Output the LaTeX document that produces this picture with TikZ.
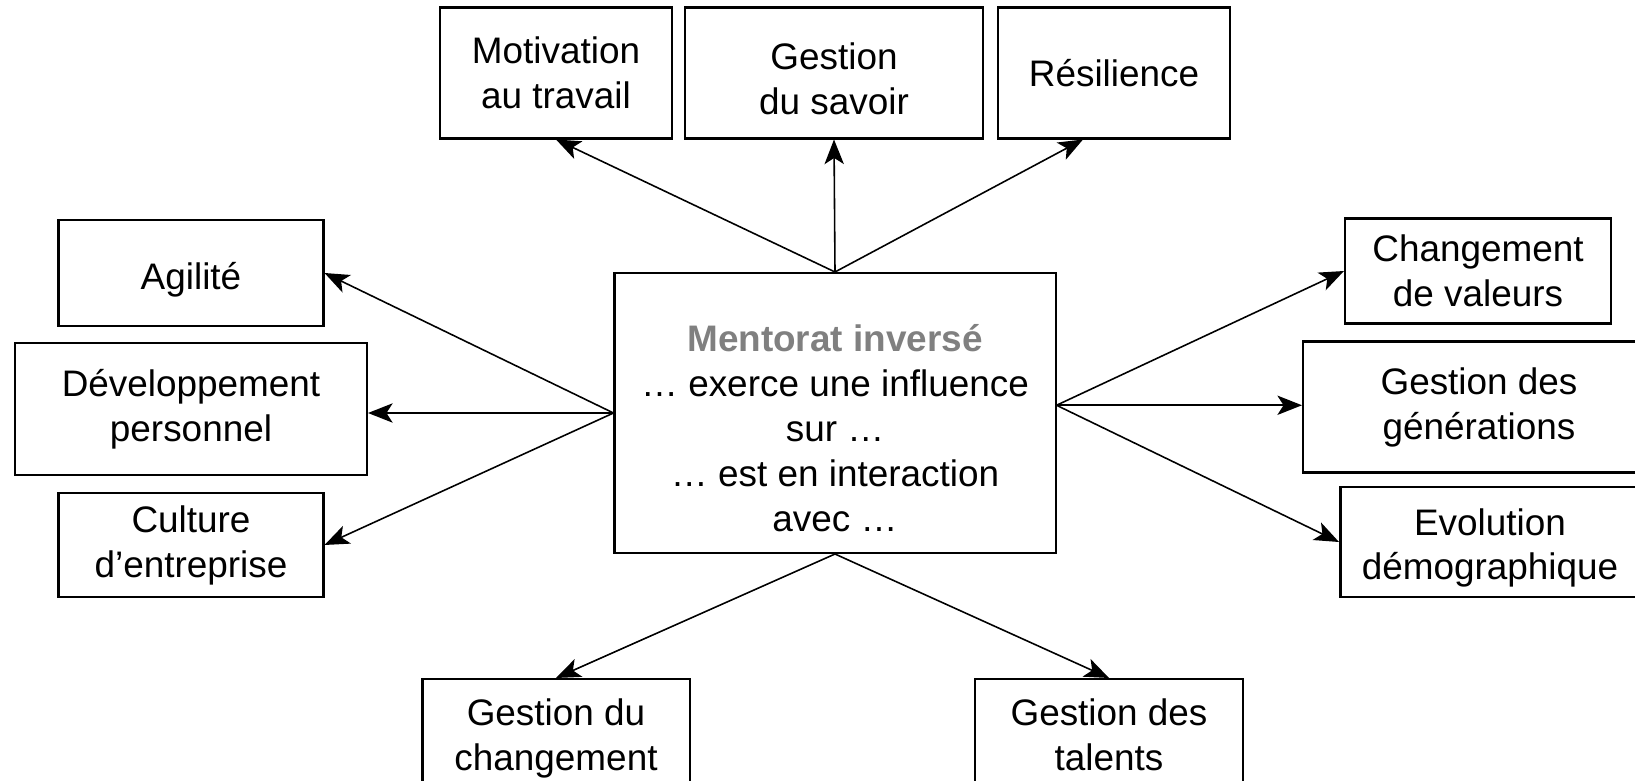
\documentclass[tikz,border=0pt]{standalone}
\usepackage{fontspec}
\setmainfont{Liberation Sans}
\usepackage{tikz}
\usetikzlibrary{arrows.meta, shapes}
\definecolor{titlegray}{gray}{0.5}
\newcommand{\toprule}{\rule{0pt}{22pt}}

\begin{document}
\begin{tikzpicture}[x=0.2mm, y=-0.2mm,
			>={Stealth[length=14pt, width=11pt, inset=3.5pt]},   %Pfeilspitzen
			box/.style={draw, line width=1.15pt, align=center, inner sep=0pt,
				font=\fontsize{21}{25.6}\selectfont},
			arr/.style={->, line width=0.9pt}]
			%Bildbereich
			\useasboundingbox (0,0) rectangle (1635,781);
			\clip (0,0) rectangle (1635,781);
			% Mitte
			\node[box, minimum width=8.82cm, minimum height=5.6cm,
				label={[yshift=-0.3cm, align=center, font=\fontsize{21}{25.6}\selectfont]center:{\textcolor{titlegray}{\textbf{Mentorat inversé}}\\… exerce une influence\\sur …\\… est en interaction\\avec …}}]
				(men) at (835,413) {};
			% oben
			\node[box, minimum width=4.64cm, minimum height=2.62cm] (mot) at (556,73) {Motivation\\au travail};
			\node[box, minimum width=5.96cm, minimum height=2.62cm] (sav) at (834,73) {\toprule Gestion\\du savoir};
			\node[box, minimum width=4.64cm, minimum height=2.62cm, text height=15pt, text depth=0pt] (res) at (1114,73) {Résilience};
			% links
			\node[box, minimum width=5.3cm, minimum height=2.12cm, text height=18.6pt, text depth=0pt] (agi) at (191,273) {Agilité};
			\node[box, minimum width=7.04cm, minimum height=2.64cm] (dev) at (191,409) {Développement\\personnel};
			\node[box, minimum width=5.3cm, minimum height=2.08cm] (cul) at (191,545) {Culture\\d’entreprise};
			% rechts
			\node[box, minimum width=5.32cm, minimum height=2.1cm] (val) at (1478,271) {Changement\\de valeurs};
			\node[box, minimum width=7.04cm, minimum height=2.62cm] (gen) at (1479,407) {Gestion des\\générations};
			\node[box, line width=1.7pt, minimum width=5.98cm, minimum height=2.2cm] (evo) at (1490,542) {\toprule Evolution\\démographique};
			% unten
			\node[box, minimum width=5.34cm, minimum height=2.24cm] (chg) at (556,735) {\rule{0pt}{19pt}Gestion du\\changement};
			\node[box, minimum width=5.36cm, minimum height=2.24cm] (tal) at (1109,735) {Gestion des\\talents};
			%Pfeile zeichnen
			\foreach \t in {mot, sav} \draw[arr] (men.north) -- (\t.south);
			\draw[arr] (men.north) -- (res.245);
			\foreach \t in {agi, cul} \draw[arr] (men.west) -- (\t.east);
			\draw[arr] (men.west) -- (men.west -| dev.east);
			\foreach \t in {val, evo} \draw[arr] (men.2) -- (\t.west);
			\draw[arr] (men.2) -- (men.2 -| gen.west);
			\foreach \t in {chg, tal} \draw[arr] (men.south) -- (\t.north);
		\end{tikzpicture}
\end{document}
